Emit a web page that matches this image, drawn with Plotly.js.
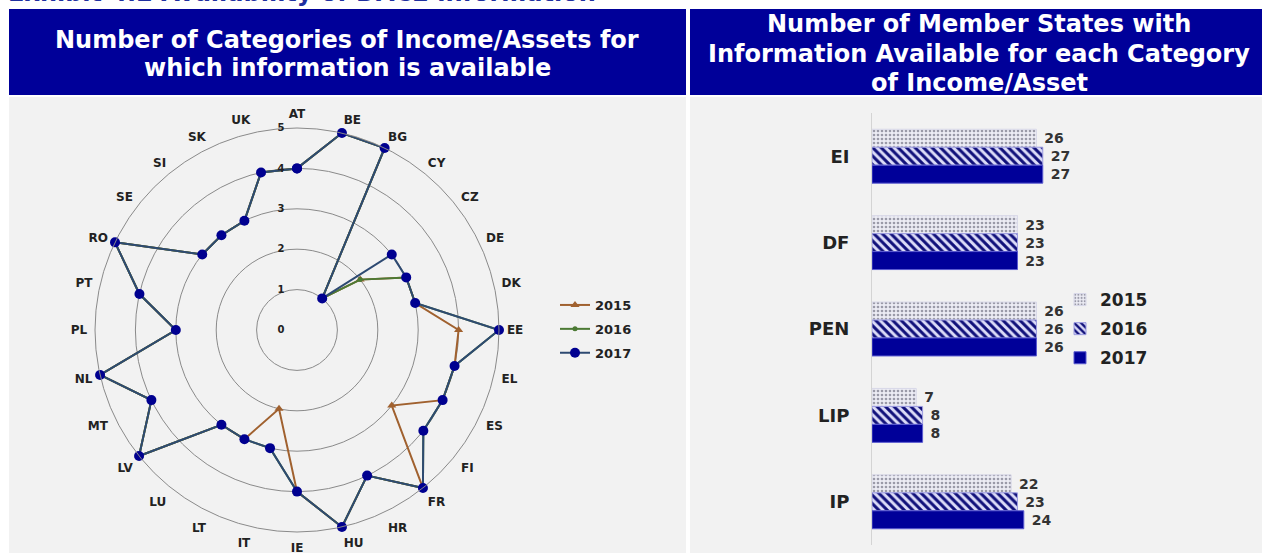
<!DOCTYPE html>
<html>
<head>
<meta charset="utf-8">
<script src="https://cdn.plot.ly/plotly-3.0.1.min.js"></script>
<style>html,body{margin:0;padding:0;background:#fff;}#chart{width:1269px;height:553px;}</style>
</head>
<body>
<div id="chart"></div>
<script>
// ---- Radar data ----
const countries = ["AT","BE","BG","CY","CZ","DE","DK","EE","EL","ES","FI","FR","HR","HU","IE","IT","LT","LU","LV","MT","NL","PL","PT","RO","SE","SI","SK","UK"];
const radar2015 = [4,5,5,1,2,3,3,4,4,4,3,5,4,5,4,2,3,3,5,4,5,3,4,5,3,3,3,4];
const radar2016 = [4,5,5,1,2,3,3,5,4,4,4,5,4,5,4,3,3,3,5,4,5,3,4,5,3,3,3,4];
const radar2017 = [4,5,5,1,3,3,3,5,4,4,4,5,4,5,4,3,3,3,5,4,5,3,4,5,3,3,3,4];
const radialTicks = [0,1,2,3,4,5];

// ---- Bar data ----
const barCategories = ["EI","DF","PEN","LIP","IP"];
const bar2015 = [26,23,26,7,22];
const bar2016 = [27,23,26,8,23];
const bar2017 = [27,23,26,8,24];
const years = ["2015","2016","2017"];

const W = 1269, H = 553;
const px = x => x / W;
const py = y => 1 - y / H;
const FONT = "DejaVu Sans, Verdana, sans-serif";
const NB = "\u00a0";

function closed(arr){ return arr.concat([arr[0]]); }
const thetaClosed = closed(countries);

const traces = [
  {type:"scatterpolar", name:years[0], r:closed(radar2015), theta:thetaClosed, mode:"lines+markers", legendgroup:"a",
   line:{color:"#A0612F", width:2}, marker:{symbol:"triangle-up", size:8, color:"#A0612F"}, legend:"legend", cliponaxis:false},
  {type:"scatterpolar", name:years[1], r:closed(radar2016), theta:thetaClosed, mode:"lines+markers", legendgroup:"b",
   line:{color:"#4C7A34", width:2}, marker:{symbol:"circle", size:5, color:"#4C7A34"}, legend:"legend", cliponaxis:false},
  {type:"scatterpolar", name:years[2], r:closed(radar2017), theta:thetaClosed, mode:"lines+markers", legendgroup:"c",
   line:{color:"#2E4A72", width:2}, marker:{symbol:"circle", size:10, color:"#000090"}, legend:"legend", cliponaxis:false},

  {type:"bar", orientation:"h", name:years[0], y:barCategories, x:bar2015, xaxis:"x", yaxis:"y", legend:"legend2", legendgroup:"d",
   marker:{color:"#ececf4", line:{color:"#d8d8e8", width:1}, pattern:{shape:".", fgcolor:"#9a9aa8", bgcolor:"#ececf4", size:4, solidity:0.35}},
   text:bar2015.map(v => NB + v), textposition:"outside", cliponaxis:false,
   textfont:{family:FONT, size:14, color:"#333", weight:"bold"}},
  {type:"bar", orientation:"h", name:years[1], y:barCategories, x:bar2016, xaxis:"x", yaxis:"y", legend:"legend2", legendgroup:"e",
   marker:{color:"#d4d4f4", line:{color:"#9a9ae0", width:1}, pattern:{shape:"\\", fgcolor:"#10107a", bgcolor:"#dcdcf8", size:6, solidity:0.5}},
   text:bar2016.map(v => NB + v), textposition:"outside", cliponaxis:false,
   textfont:{family:FONT, size:14, color:"#333", weight:"bold"}},
  {type:"bar", orientation:"h", name:years[2], y:barCategories, x:bar2017, xaxis:"x", yaxis:"y", legend:"legend2", legendgroup:"f",
   marker:{color:"#000099", line:{color:"#5a5ad0", width:1}},
   text:bar2017.map(v => NB + v), textposition:"outside", cliponaxis:false,
   textfont:{family:FONT, size:14, color:"#333", weight:"bold"}}
];

const shapes = [
  {type:"rect", xref:"paper", yref:"paper", x0:px(9), x1:px(686), y0:py(95), y1:py(9), fillcolor:"#000099", line:{width:0}, layer:"below"},
  {type:"rect", xref:"paper", yref:"paper", x0:px(690), x1:px(1262), y0:py(95), y1:py(9), fillcolor:"#000099", line:{width:0}, layer:"below"},
  {type:"rect", xref:"paper", yref:"paper", x0:px(9), x1:px(686), y0:py(553), y1:py(97), fillcolor:"#f2f2f2", line:{width:0}, layer:"below"},
  {type:"rect", xref:"paper", yref:"paper", x0:px(690), x1:px(1262), y0:py(553), y1:py(97), fillcolor:"#f2f2f2", line:{width:0}, layer:"below"}
];

function hdr(text, x, y){
  return {xref:"paper", yref:"paper", x:px(x), y:py(y), xanchor:"center", yanchor:"middle", showarrow:false,
          text:text, font:{family:FONT, size:24, color:"#ffffff", weight:"bold"}};
}
const annotations = [
  {xref:"paper", yref:"paper", x:px(6), y:py(-7), xanchor:"left", yanchor:"middle", showarrow:false,
   text:"Exhibit 4.2 Availability of DAC2 information", font:{family:FONT, size:24, color:"#1f2f9f", weight:"bold"}},
  hdr("Number of Categories of Income/Assets for", 347, 40),
  hdr("which information is available", 347, 68),
  hdr("Number of Member States with", 979, 24),
  hdr("Information Available for each Category", 979, 54),
  hdr("of Income/Asset", 979, 83)
];

const layout = {
  width:W, height:H, margin:{l:0,r:0,t:0,b:0}, paper_bgcolor:"#ffffff", plot_bgcolor:"rgba(0,0,0,0)",
  font:{family:FONT, color:"#222"},
  showlegend:true,
  shapes:shapes, annotations:annotations,
  polar:{
    domain:{x:[px(95), px(499)], y:[py(532), py(128)]},
    bgcolor:"#f2f2f2",
    radialaxis:{range:[0,5], tickvals:radialTicks, ticktext:radialTicks.map(v => v + NB + NB + NB),
      angle:90, tickangle:90, side:"counterclockwise", showline:false, ticks:"",
      gridcolor:"#8a8a8a", gridwidth:1, tickfont:{family:FONT, size:10, color:"#222", weight:"bold"}},
    angularaxis:{type:"category", categoryarray:countries, rotation:90, direction:"clockwise",
      showgrid:false, showline:true, linecolor:"#8a8a8a", linewidth:1,
      ticks:"outside", ticklen:5, tickcolor:"rgba(0,0,0,0)",
      tickfont:{family:FONT, size:12, color:"#222", weight:"bold"}}
  },
  xaxis:{domain:[px(872), px(1125)], range:[0,40], visible:false, fixedrange:true},
  yaxis:{domain:[py(545), py(113)], type:"category", categoryarray:barCategories, autorange:"reversed",
    showline:true, linecolor:"#d4d4d4", linewidth:1, showgrid:false, zeroline:false, ticks:"",
    ticklabelstandoff:18, tickfont:{family:FONT, size:18, color:"#222", weight:"bold"}},
  barmode:"group", bargap:0.376, bargroupgap:0,
  legend:{x:px(555), y:py(290), xanchor:"left", yanchor:"top", bgcolor:"rgba(0,0,0,0)",
    font:{family:FONT, size:13, color:"#222", weight:"bold"}, itemwidth:30, tracegroupgap:4},
  legend2:{x:px(1060), y:py(282), xanchor:"left", yanchor:"top", bgcolor:"rgba(0,0,0,0)",
    font:{family:FONT, size:17, color:"#222", weight:"bold"}, itemwidth:30, tracegroupgap:4}
};

Plotly.newPlot("chart", traces, layout, {displayModeBar:false, staticPlot:true});
</script>
</body>
</html>
